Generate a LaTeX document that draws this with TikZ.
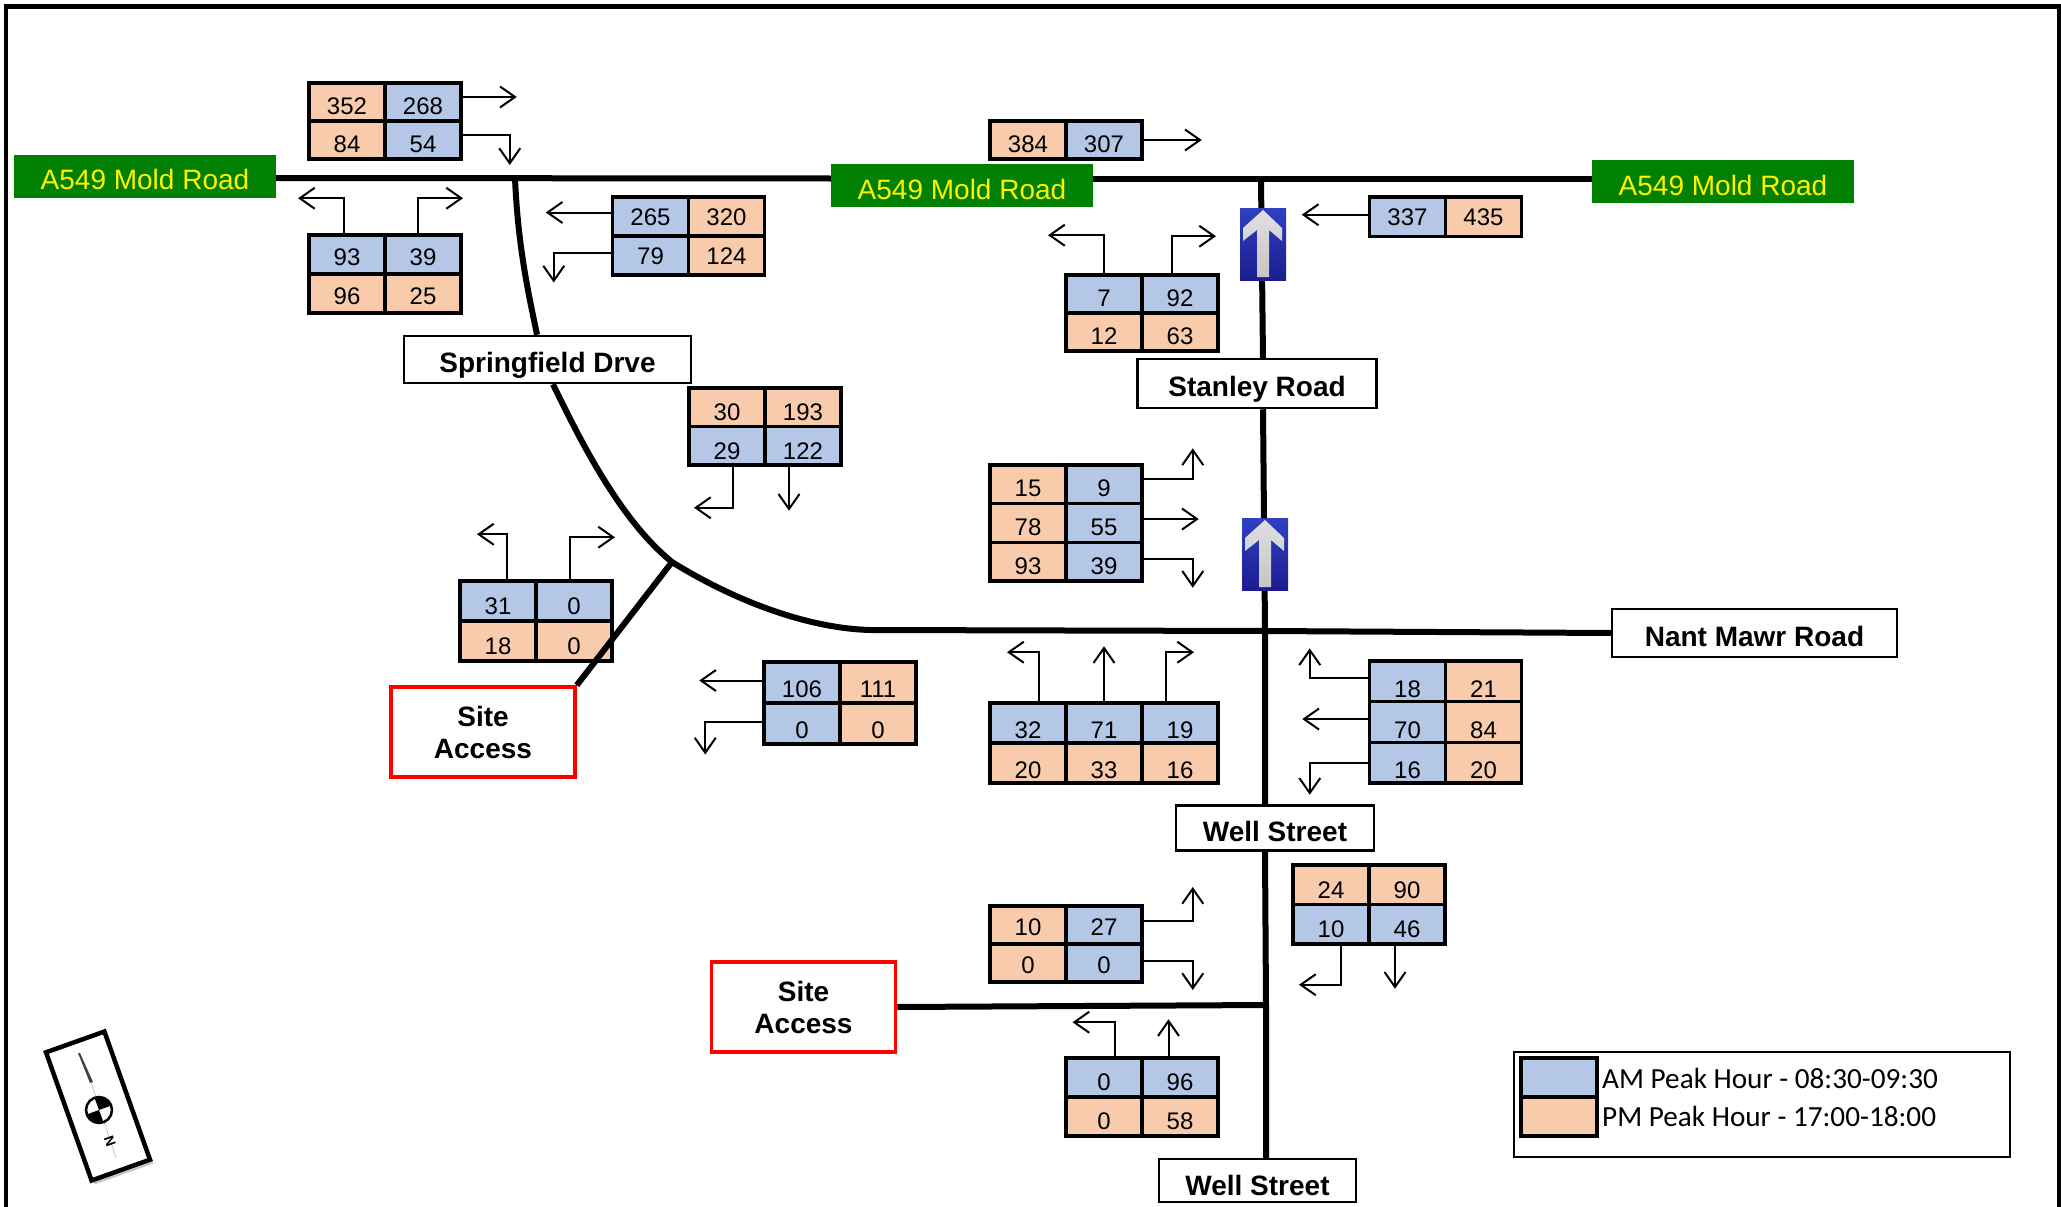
\documentclass[tikz,border=0pt]{standalone}
\usepackage{fontspec}
\setmainfont{Liberation Sans}
\newfontfamily\legendfont{Carlito}
\usetikzlibrary{arrows.meta,shadows}
\definecolor{amblue}{HTML}{B4C7E7}
\definecolor{pmpeach}{HTML}{F8CBAD}
\definecolor{signgreen}{HTML}{008000}
\definecolor{signtop}{HTML}{3040C0}
\definecolor{signbottom}{HTML}{1C1C90}
\newcommand{\flowtable}[6][]{\foreach \c/\r/\s/\t in {#6} \node[\s,minimum height=#5pt,#1] (#2-\r\c) at (#3+\c*76+38,#4+\r*#5+#5/2) {\t};}
\newcommand{\onewaysign}[3]{\node[signbox] (#1) at (#2+23,#3+36) {};
\shade[top color=gray!25,bottom color=gray!45] (#2+23,#3+2) -- (#2+42,#3+20) -- (#2+42,#3+33) -- (#2+29,#3+22) -- (#2+29,#3+69) -- (#2+17,#3+69) -- (#2+17,#3+22) -- (#2+3,#3+33) -- (#2+3,#3+20) -- cycle;}
\begin{document}
\begin{tikzpicture}[x=1pt,y=-1pt,font=\fontsize{24}{28}\selectfont]
\tikzset{
  am/.style={draw,line width=3.5pt,fill=amblue,minimum width=76pt,minimum height=38pt,inner sep=0pt,text height=25pt,text depth=0pt},
  pm/.style={am,fill=pmpeach},
  flow/.style={line width=2pt,-{Straight Barb[length=15pt,width=21pt,line width=2pt]}},
  road/.style={line width=6pt},
  greenlabel/.style={fill=signgreen,text=yellow,font=\fontsize{28}{32}\selectfont,minimum width=262pt,minimum height=43pt,inner sep=0pt,text height=27pt,text depth=0pt},
  namelabel/.style={draw,line width=2.5pt,fill=white,font=\bfseries\fontsize{28}{32}\selectfont,inner sep=0pt,text height=26pt,text depth=0pt},
  sitelabel/.style={draw=red,line width=3.5pt,fill=white,font=\bfseries\fontsize{28}{32}\selectfont,align=center,minimum width=184pt,minimum height=90pt,inner sep=0pt},
  signbox/.style={top color=signtop,bottom color=signbottom,minimum width=46pt,minimum height=72pt,inner sep=0pt}
}
\useasboundingbox (0,0) rectangle (2061,1207);
% page frame
\draw[line width=4.5pt] (6,1207) -- (6,6.5) -- (2059,6.5) -- (2059,1207);

% road labels
\node[greenlabel] (moldw) at (145,176) {A549 Mold Road};
\node[greenlabel] (moldm) at (962,185.5) {A549 Mold Road};
\node[greenlabel] (molde) at (1723,181.5) {A549 Mold Road};
\node[namelabel,minimum width=287pt,minimum height=47pt] (spring) at (547.5,359.5) {Springfield Drve};
\node[namelabel,minimum width=239pt,minimum height=49pt] (stanley) at (1257,383.5) {Stanley Road};
\node[namelabel,minimum width=285pt,minimum height=48pt] (nant) at (1754.5,633) {Nant Mawr Road};
\node[namelabel,minimum width=198pt,minimum height=45pt] (wellup) at (1275,828) {Well Street};
\node[namelabel,minimum width=197pt,minimum height=43pt,text height=30pt] (welldn) at (1257.5,1180.5) {Well Street};
\node[sitelabel] (sitew) at (483,732) {Site\\Access};
\node[sitelabel] (sites) at (803.5,1007) {Site\\Access};

% roads
\coordinate (jtop) at (515,178);
\coordinate (jsite) at (672,562);
\coordinate (jnant) at (1265,631);
\coordinate (jsouth) at (1266,1005);
\draw[road] ([yshift=-2pt]moldw.east) -- ([yshift=7pt]moldm.west);
\draw[road] ([yshift=6.5pt]moldm.east) -- ([yshift=2.5pt]molde.west);
\draw[road] (jtop) .. controls (518,250) and (530,300) .. (spring.north -| 537,0);
\draw[road] (spring.south -| 553,0) .. controls (580,440) and (620,520) .. (jsite) .. controls (725,595) and (800,628) .. (870,630) -- (jnant) -- (nant.west);
\draw[road] (1261,180) -- (1263,359);
\draw[road] (stanley.south -| 1263,0) -- (jnant) -- (wellup.north -| 1265,0);
\draw[road] (wellup.south -| 1265,0) -- (jsouth) -- (welldn.north -| 1266,0);
\draw[road] (sites.east) -- (jsouth);
\onewaysign{onewaya}{1240}{208}
\onewaysign{onewayb}{1242}{518}

% count tables
\flowtable{ta}{309}{83}{38}{0/0/pm/352,1/0/am/268,0/1/pm/84,1/1/am/54}
\flowtable{tb}{990}{121}{38}{0/0/pm/384,1/0/am/307}
\flowtable[text height=21pt]{tc}{309}{235}{39}{0/0/am/93,1/0/am/39,0/1/pm/96,1/1/pm/25}
\flowtable[text height=17pt]{td}{612.5}{197}{39}{0/0/am/265,1/0/pm/320,0/1/am/79,1/1/pm/124}
\flowtable[text height=17pt]{te}{1369.5}{197}{39.5}{0/0/am/337,1/0/pm/435}
\flowtable{tf}{1066}{275}{38}{0/0/am/7,1/0/am/92,0/1/pm/12,1/1/pm/63}
\flowtable[text height=27pt]{tg}{689}{388}{38.5}{0/0/pm/30,1/0/pm/193,0/1/am/29,1/1/am/122}
\flowtable{th}{990}{465}{38.7}{0/0/pm/15,1/0/am/9,0/1/pm/78,1/1/am/55,0/2/pm/93,1/2/am/39}
\flowtable[text height=27pt]{ti}{460}{581}{40}{0/0/am/31,1/0/am/0,0/1/pm/18,1/1/pm/0}
\flowtable[text height=30pt]{tj}{764}{662}{41}{0/0/am/106,1/0/pm/111,0/1/am/0,1/1/pm/0}
\flowtable[text height=30pt]{tk}{990}{703}{40}{0/0/am/32,1/0/am/71,2/0/am/19,0/1/pm/20,1/1/pm/33,2/1/pm/16}
\flowtable[text height=32pt]{tl}{1369.5}{661}{40.7}{0/0/am/18,1/0/pm/21,0/1/am/70,1/1/pm/84,0/2/am/16,1/2/pm/20}
\flowtable[text height=27pt]{tm}{1293}{865}{39.5}{0/0/pm/24,1/0/pm/90,0/1/am/10,1/1/am/46}
\flowtable[text height=21pt]{tn}{990}{906}{38}{0/0/pm/10,1/0/am/27,0/1/pm/0,1/1/am/0}
\flowtable{to}{1066}{1058}{39}{0/0/am/0,1/0/am/96,0/1/pm/0,1/1/pm/58}
\draw[road] (jsite) -- (sitew.north east);

% turning movements
\draw[flow] ([yshift=5pt]ta-01.east) -- ++(54,0);
\draw[flow] ([yshift=5pt]ta-11.east) -- ++(47,0) -- ++(0,30);
\draw[flow] (tb-01.east) -- ++(58,0);
\draw[flow] ([xshift=-3pt]tc-00.north) -- ++(0,-35) -- ++(-46,0);
\draw[flow] ([xshift=-5pt]tc-01.north) -- ++(0,-35) -- ++(45,0);
\draw[flow] ([yshift=4pt]td-00.west) -- ++(-65,0);
\draw[flow] ([yshift=3pt]td-10.west) -- ++(-57,0) -- ++(0,30);
\draw[flow] ([yshift=2pt]te-00.west) -- ++(-66,0);
\draw[flow] (tf-00.north) -- ++(0,-38) -- ++(-56,0);
\draw[flow] ([xshift=-8pt]tf-01.north) -- ++(0,-37) -- ++(44,0);
\draw[flow] ([xshift=6pt]tg-10.south) -- ++(0,41) -- ++(-39,0);
\draw[flow] ([xshift=-14pt]tg-11.south) -- ++(0,44);
\draw[flow] ([yshift=5pt]th-01.east) -- ++(49,0) -- ++(0,-31);
\draw[flow] ([yshift=4pt]th-11.east) -- ++(55,0);
\draw[flow] ([yshift=3pt]th-21.east) -- ++(49,0) -- ++(0,29);
\draw[flow] ([xshift=9pt]ti-00.north) -- ++(0,-45) -- ++(-30,0);
\draw[flow] ([xshift=-4pt]ti-01.north) -- ++(0,-42) -- ++(45,0);
\draw[flow] ([yshift=2pt]tj-00.west) -- ++(-63,0);
\draw[flow] ([yshift=2pt]tj-10.west) -- ++(-57,0) -- ++(0,33);
\draw[flow] ([xshift=11pt]tk-00.north) -- ++(0,-49) -- ++(-32,0);
\draw[flow] (tk-01.north) -- ++(0,-55);
\draw[flow] ([xshift=-14.5pt]tk-02.north) -- ++(0,-49) -- ++(28.5,0);
\draw[flow] ([yshift=3pt]tl-00.west) -- ++(-58,0) -- ++(0,-30);
\draw[flow] ([yshift=3pt]tl-10.west) -- ++(-65.5,0);
\draw[flow] (tl-20.west) -- ++(-58,0) -- ++(0,32);
\draw[flow] ([xshift=10pt]tm-10.south) -- ++(0,39) -- ++(-42,0);
\draw[flow] ([xshift=-12pt]tm-11.south) -- ++(0,43);
\draw[flow] ([yshift=4pt]tn-01.east) -- ++(49,0) -- ++(0,-34);
\draw[flow] ([yshift=2pt]tn-11.east) -- ++(49,0) -- ++(0,29);
\draw[flow] ([xshift=10.5pt]to-00.north) -- ++(0,-34) -- ++(-42,0);
\draw[flow] ([xshift=-11.5pt]to-01.north) -- ++(0,-37);

% north point
\node[draw,line width=4.5pt,fill=white,minimum width=62pt,minimum height=136pt,rotate=19.6,drop shadow={shadow xshift=3pt,shadow yshift=-4pt,opacity=.45}] (northbox) at (98,1106) {};
\fill[black!75] (78,1053) -- (80,1053) -- (93,1082) -- (90,1083) -- cycle;
\draw[gray!50,line width=.7pt] (91,1082) -- (116,1158);
\node[circle,draw,line width=2.5pt,fill=white,minimum size=26pt,inner sep=0pt] (northdisc) at (99,1110) {};
\fill[black] (northdisc.center) -- ([shift={(20:12pt)}]northdisc.center) arc[start angle=20,end angle=110,radius=12pt] -- cycle;
\fill[black] (northdisc.center) -- ([shift={(200:12pt)}]northdisc.center) arc[start angle=200,end angle=290,radius=12pt] -- cycle;
\node[rotate=109.6,font=\bfseries\fontsize{14}{15}\selectfont,inner sep=0pt] (northn) at (110,1141) {N};

% legend
\node[draw,line width=2.5pt,minimum width=496pt,minimum height=105pt,inner sep=0pt] (legend) at (1762,1104.5) {};
\node[am,minimum height=39pt] (amkey) at (1559,1077.5) {};
\node[pm,minimum height=39pt] (pmkey) at (1559,1116.5) {};
\node[anchor=west,inner sep=0pt,font=\legendfont\fontsize{29.2}{32}\selectfont] (amtext) at (1602,1078) {AM Peak Hour - 08:30-09:30};
\node[anchor=west,inner sep=0pt,font=\legendfont\fontsize{29.2}{32}\selectfont] (pmtext) at (1602,1116) {PM Peak Hour - 17:00-18:00};
\end{tikzpicture}
\end{document}
